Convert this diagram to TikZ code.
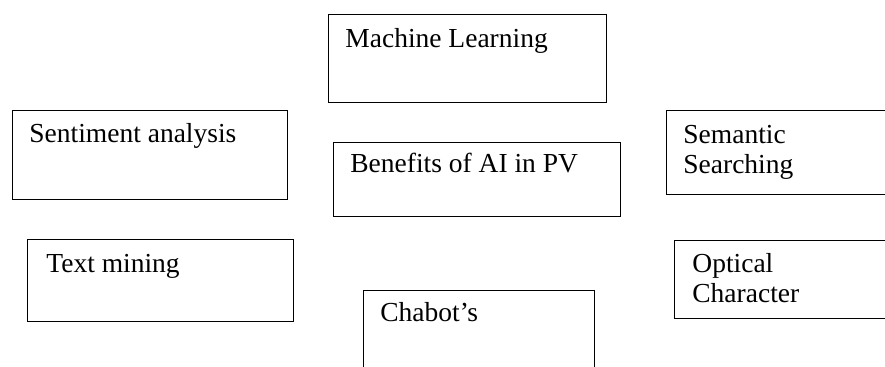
\documentclass[tikz,border=0pt]{standalone}
\usepackage{fontspec}
\setmainfont{Liberation Serif}
\usepackage{tikz}

\begin{document}
\begin{tikzpicture}[x=0.5pt, y=-0.5pt,
  box/.style={rectangle, draw, line width=0.65pt, inner sep=0pt, anchor=north west},
  lbl/.style={anchor=base west, inner sep=0pt, align=left, font=\fontsize{13.75}{15}\selectfont}]
\useasboundingbox (0,0) rectangle (885,367);
\clip (0,0) rectangle (885,367);

% boxes
\node (machine) [box, minimum width=139pt, minimum height=44pt] at (328,14) {};
\node (sentiment) [box, minimum width=137.5pt, minimum height=44.5pt] at (12,110) {};
\node (benefits) [box, minimum width=143.5pt, minimum height=37pt] at (333,142) {};
\node (semantic) [box, minimum width=125pt, minimum height=42pt] at (666,110) {};
\node (textmining) [box, minimum width=133pt, minimum height=41pt] at (27,239) {};
\node (optical) [box, minimum width=125pt, minimum height=39pt] at (674,240) {};
\node (chatbot) [box, minimum width=115.5pt, minimum height=50pt] at (363,290) {};

% texts (two-line texts sit on their last baseline)
\node (machinetext) [lbl] at ([shift={(17,34)}]machine.north west) {Machine Learning};
\node (sentimenttext) [lbl] at ([shift={(17,33)}]sentiment.north west) {Sentiment analysis};
\node (benefitstext) [lbl] at ([shift={(17,31)}]benefits.north west) {Benefits of AI in PV};
\node (semantictext) [lbl] at ([shift={(17,64)}]semantic.north west) {Semantic\\Searching};
\node (textminingtext) [lbl] at ([shift={(19,34)}]textmining.north west) {Text mining};
\node (opticaltext) [lbl] at ([shift={(18,63)}]optical.north west) {Optical\\Character};
\node (chatbottext) [lbl] at ([shift={(17,32)}]chatbot.north west) {Chabot’s};
\end{tikzpicture}
\end{document}
